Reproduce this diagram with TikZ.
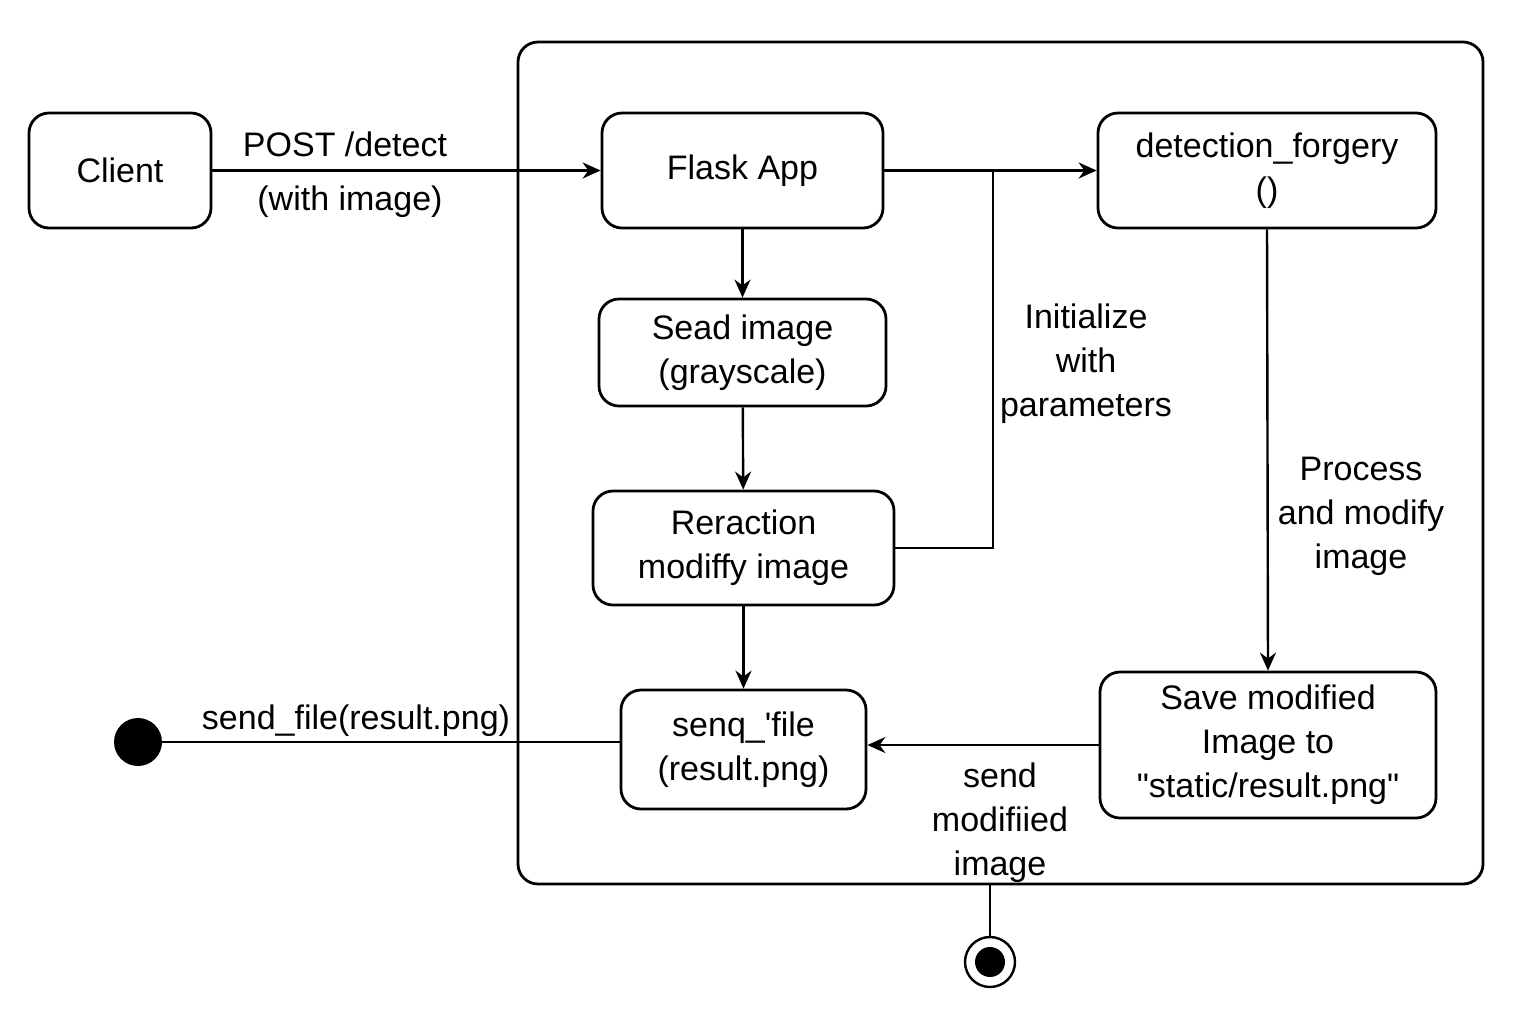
\documentclass[tikz,border=0pt]{standalone}
\usepackage{fontspec}
\setmainfont{Liberation Sans}[Ligatures=TeXOff]
\usepackage{tikz}
\usetikzlibrary{arrows.meta}

\begin{document}
\begin{tikzpicture}[x=0.5pt,y=-0.5pt,
        font=\fontsize{17}{22}\selectfont,
        state/.style={draw,line width=1.4pt,rounded corners=10pt,align=center,inner sep=0pt},
        flow/.style={line width=1.2pt,-{Stealth[length=9pt,width=8pt]}},
        plain/.style={line width=1.2pt}]
            \useasboundingbox (0,0) rectangle (1536,1024);
            % outer frame
            \node[state,minimum width=482.5pt,minimum height=421pt] (frame) at (1000.5,463) {};

            % states
            \node[state,minimum width=91pt,minimum height=57.5pt] (client) at (120,170.5) {Client};
            \node[state,minimum width=140.5pt,minimum height=57.5pt] (flask) at (742.5,170.5) {Flask App};
            \node[state,minimum width=169pt,minimum height=57.5pt] (detect) at (1267,170.5) {detection\_forgery\\()};
            \node[state,minimum width=143.5pt,minimum height=53.5pt] (sead) at (742.5,352.5) {Sead image\\(grayscale)};
            \node[state,minimum width=150.5pt,minimum height=57pt] (reract) at (743.5,548) {Reraction\\modiffy image};
            \node[state,minimum width=122.5pt,minimum height=59.5pt] (senq) at (743.5,749.5) {senq\_'file\\(result.png)};
            \node[state,minimum width=168pt,minimum height=73pt] (save) at (1268,745) {Save modified\\Image to\\"static/result.png"};

            % initial and final
            \node[circle,fill,minimum size=24pt,inner sep=0pt] (start) at (138,742) {};
            \node[circle,draw,line width=1.2pt,minimum size=25pt,inner sep=0pt] (stop) at (990,962) {};
            \node[circle,fill,minimum size=15pt,inner sep=0pt] at (stop) {};
            \coordinate (join) at (993,170.5);

            % transitions
            \draw[flow] (client)--(flask);
            \node at (345,144) {POST /detect};
            \node at (350,202) {(with image)};
            \draw[flow] (flask)--(detect);
            \draw[flow] (flask)--(sead);
            \draw[flow] (sead)--(reract);
            \draw[flow] (reract)--(senq);
            \draw[plain] (reract.east)-|(join);
            \node[align=center] at (1086,364) {Initialize\\with\\parameters};
            \draw[flow] (detect.south)--(save.north);
            \node[align=center] at (1361,516) {Process\\and modify\\image};
            \draw[flow] (save.west)--(save.west -| senq.east);
            \node[align=center] at (1000,823) {send\\modifiied\\image};
            \draw[plain] (start)--(start -| senq.west);
            \node at (356,721) {send\_file(result.png)};
            \draw[plain] (stop)--(stop |- frame.south);
        \end{tikzpicture}
\end{document}
